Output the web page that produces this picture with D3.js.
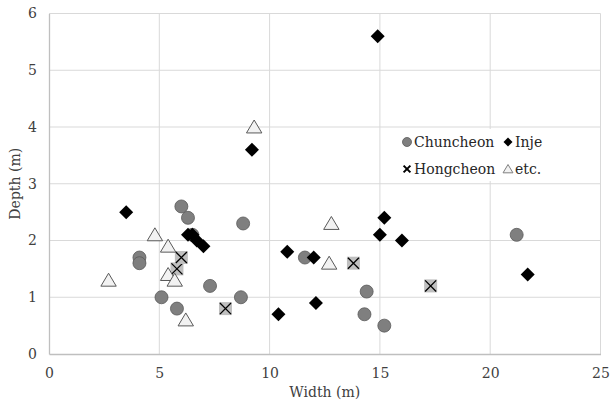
<!DOCTYPE html>
<html>
<head>
<meta charset="utf-8">
<script src="https://cdn.jsdelivr.net/npm/d3@7"></script>
<style>
  html, body { margin: 0; padding: 0; background: #fff; }
  svg { display: block; }
  text { font-family: "DejaVu Serif", "Liberation Serif", serif; }
</style>
</head>
<body>
<svg id="chart" width="611" height="402"></svg>
<script>
// Channel width / depth measurements by region, [width (m), depth (m)]
const chuncheon = [
  [4.1, 1.7], [4.1, 1.6], [5.1, 1.0], [5.8, 0.8], [6.0, 2.6], [6.3, 2.4],
  [6.5, 2.1], [7.3, 1.2], [8.7, 1.0], [8.8, 2.3], [11.6, 1.7], [14.4, 1.1],
  [14.3, 0.7], [15.2, 0.5], [21.2, 2.1]
];
const inje = [
  [3.5, 2.5], [6.3, 2.1], [6.5, 2.1], [6.7, 2.0], [7.0, 1.9], [9.2, 3.6],
  [10.4, 0.7], [10.8, 1.8], [12.0, 1.7], [12.1, 0.9], [14.9, 5.6], [15.0, 2.1],
  [15.2, 2.4], [16.0, 2.0], [21.7, 1.4]
];
const hongcheon = [
  [5.8, 1.5], [6.0, 1.7], [8.0, 0.8], [13.8, 1.6], [17.3, 1.2]
];
const etc = [
  [2.7, 1.3], [4.8, 2.1], [5.4, 1.9], [5.4, 1.4], [5.7, 1.3], [6.2, 0.6],
  [9.3, 4.0], [12.7, 1.6], [12.8, 2.3]
];
const seriesNames = ["Chuncheon", "Inje", "Hongcheon", "etc."];
const xTicks = [0, 5, 10, 15, 20, 25];
const yTicks = [0, 1, 2, 3, 4, 5, 6];
const xTitle = "Width (m)";
const yTitle = "Depth (m)";

const svg = d3.select("#chart");
const margin = { left: 49, right: 10.5, top: 13.5, bottom: 48 };
const W = 611, H = 402;

const x = d3.scaleLinear().domain([0, 25]).range([margin.left, W - margin.right]);
const y = d3.scaleLinear().domain([0, 6]).range([H - margin.bottom, margin.top]);

// gridlines
const grid = svg.append("g");
grid.selectAll("line.gx").data(xTicks.slice(1)).join("line")
  .attr("x1", d => x(d)).attr("x2", d => x(d))
  .attr("y1", y(0)).attr("y2", y(6))
  .attr("stroke", "#d9d9d9").attr("stroke-width", 1);
grid.selectAll("line.gy").data(yTicks.slice(1)).join("line")
  .attr("x1", x(0)).attr("x2", x(25))
  .attr("y1", d => y(d)).attr("y2", d => y(d))
  .attr("stroke", "#d9d9d9").attr("stroke-width", 1);

// axes
const fmt = d3.format("d");
const xAxis = svg.append("g")
  .attr("transform", `translate(0,${y(0)})`)
  .call(d3.axisBottom(x).tickValues(xTicks).tickFormat(fmt).tickSize(0).tickPadding(14));
const yAxis = svg.append("g")
  .attr("transform", `translate(${x(0)},0)`)
  .call(d3.axisLeft(y).tickValues(yTicks).tickFormat(fmt).tickSize(0).tickPadding(12));
[xAxis, yAxis].forEach(a => {
  a.select(".domain").attr("stroke", "#bfbfbf").attr("stroke-width", 1.3);
  a.selectAll("text")
    .attr("fill", "#404040")
    .style("font-size", "14px")
    .style("font-family", "DejaVu Serif, Liberation Serif, serif");
});

// axis titles
svg.append("text")
  .attr("x", (x(0) + x(25)) / 2).attr("y", 397)
  .attr("text-anchor", "middle")
  .attr("fill", "#404040").style("font-size", "14px")
  .text(xTitle);
svg.append("text")
  .attr("transform", `translate(20,${(y(0) + y(6)) / 2}) rotate(-90)`)
  .attr("text-anchor", "middle")
  .attr("fill", "#404040").style("font-size", "14px")
  .text(yTitle);

// marker drawers
const diamond = s => `M0,${-s}L${s},0L0,${s}L${-s},0Z`;
const tri = s => `M0,${-s}L${s * 1.1},${s * 0.85}L${-s * 1.1},${s * 0.85}Z`;

function drawCircle(g, r) {
  g.append("circle").attr("r", r)
    .attr("fill", "#7f7f7f").attr("stroke", "#595959").attr("stroke-width", 0.8);
}
function drawDiamond(g, s) {
  g.append("path").attr("d", diamond(s)).attr("fill", "#000");
}
function drawCross(g, s, boxed) {
  if (boxed) {
    g.append("rect").attr("x", -s).attr("y", -s).attr("width", 2 * s).attr("height", 2 * s)
      .attr("fill", "#bfbfbf");
  }
  const k = s * 0.85;
  g.append("path").attr("d", `M${-k},${-k}L${k},${k}M${k},${-k}L${-k},${k}`)
    .attr("stroke", "#000").attr("stroke-width", boxed ? 1.3 : 2).attr("fill", "none");
}
function drawTriangle(g, s, fill, stroke) {
  g.append("path").attr("d", tri(s))
    .attr("fill", fill).attr("stroke", stroke).attr("stroke-width", 1);
}

const plot = svg.append("g");
plot.selectAll("g.chun").data(chuncheon).join("g")
  .attr("transform", d => `translate(${x(d[0])},${y(d[1])})`)
  .each(function () { drawCircle(d3.select(this), 6.5); });
plot.selectAll("g.inje").data(inje).join("g")
  .attr("transform", d => `translate(${x(d[0])},${y(d[1])})`)
  .each(function () { drawDiamond(d3.select(this), 7); });
plot.selectAll("g.hong").data(hongcheon).join("g")
  .attr("transform", d => `translate(${x(d[0])},${y(d[1])})`)
  .each(function () { drawCross(d3.select(this), 6.5, true); });
plot.selectAll("g.etc").data(etc).join("g")
  .attr("transform", d => `translate(${x(d[0])},${y(d[1])})`)
  .each(function () { drawTriangle(d3.select(this), 7, "#f2f2f2", "#595959"); });

// legend
const legend = svg.append("g");
legend.append("rect").attr("x", 398).attr("y", 129).attr("width", 160).attr("height", 52)
  .attr("fill", "#fff");
const legendItems = [
  { name: seriesNames[0], lx: 407, ly: 142, draw: g => drawCircle(g, 4.5) },
  { name: seriesNames[1], lx: 508, ly: 142, draw: g => drawDiamond(g, 4.5) },
  { name: seriesNames[2], lx: 407, ly: 169, draw: g => drawCross(g, 4, false) },
  { name: seriesNames[3], lx: 508, ly: 169, draw: g => drawTriangle(g, 4.5, "#f2f2f2", "#7f7f7f") }
];
legendItems.forEach(it => {
  const g = legend.append("g").attr("transform", `translate(${it.lx},${it.ly})`);
  it.draw(g);
  legend.append("text")
    .attr("x", it.lx + 7).attr("y", it.ly + 5)
    .attr("fill", "#262626").style("font-size", "14px")
    .text(it.name);
});
</script>
</body>
</html>
